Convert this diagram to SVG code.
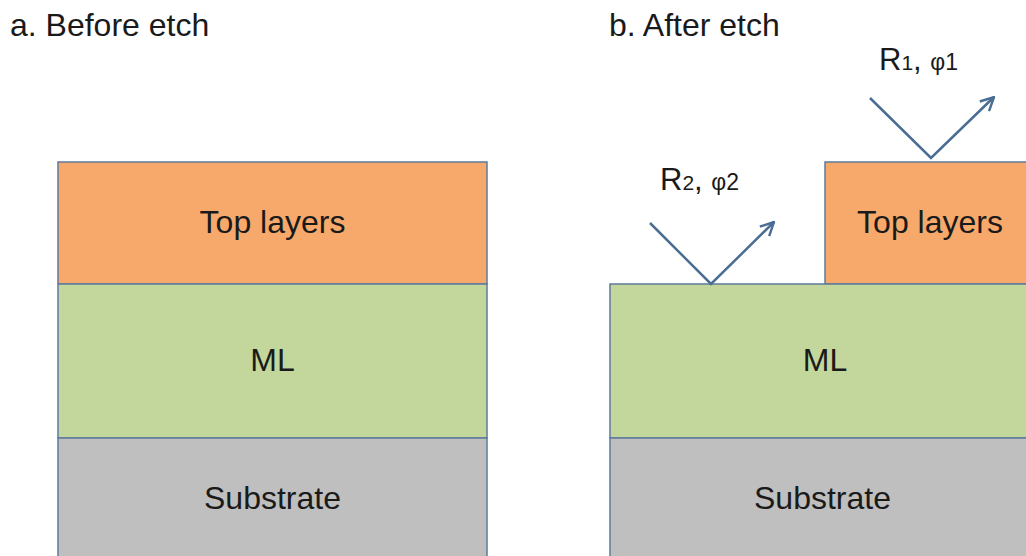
<svg xmlns="http://www.w3.org/2000/svg" width="1026" height="556" viewBox="0 0 1026 556">
  <style>
    .txt { font-family: "Liberation Sans", Arial, sans-serif; fill: #1a1a1a; }
    .title { font-size: 32px; }
    .lbl { font-size: 32px; text-anchor: middle; }
    .layer { stroke: #5d7b9c; stroke-width: 1.5; }
    .top { fill: #F7A96B; }
    .ml { fill: #C3D69B; }
    .sub { fill: #BFBFBF; }
    .ray { fill: none; stroke: #4A6D93; stroke-width: 2.5; stroke-linejoin: miter; }
  </style>
  <defs>
    <marker id="open" viewBox="0 0 12 12" refX="11" refY="6" markerWidth="16" markerHeight="16" markerUnits="userSpaceOnUse" orient="auto">
      <path d="M1,1 L11,6 L1,11" fill="none" stroke="#4A6D93" stroke-width="1.8"/>
    </marker>
  </defs>
  <rect width="1026" height="556" fill="#ffffff"/>

  <!-- panel titles -->
  <text class="txt title" x="10" y="36">a. Before etch</text>
  <text class="txt title" x="609" y="36">b. After etch</text>

  <!-- a. stack before etch -->
  <g id="a-top">
    <rect class="layer top" x="58" y="162" width="429" height="122"/>
    <text class="txt lbl" x="272.5" y="233">Top layers</text>
  </g>
  <g id="a-ml">
    <rect class="layer ml" x="58" y="284" width="429" height="154"/>
    <text class="txt lbl" x="272.5" y="371">ML</text>
  </g>
  <g id="a-substrate">
    <rect class="layer sub" x="58" y="438" width="429" height="130"/>
    <text class="txt lbl" x="272.5" y="509">Substrate</text>
  </g>

  <!-- b. stack after etch -->
  <g id="b-top">
    <rect class="layer top" x="825" y="162" width="210" height="122"/>
    <text class="txt lbl" x="930" y="233">Top layers</text>
  </g>
  <g id="b-ml">
    <rect class="layer ml" x="610" y="284" width="429" height="154"/>
    <text class="txt lbl" x="825" y="371">ML</text>
  </g>
  <g id="b-substrate">
    <rect class="layer sub" x="610" y="438" width="429" height="130"/>
    <text class="txt lbl" x="822.5" y="509">Substrate</text>
  </g>

  <!-- reflected rays -->
  <g id="connectors">
    <polyline class="ray" points="650,223 711,284 774,222" marker-end="url(#open)"/>
    <polyline class="ray" points="870,98 931,158 994,97" marker-end="url(#open)"/>
  </g>

  <!-- ray labels -->
  <g id="label-r2">
    <text class="txt" x="660" y="190" font-size="31">R<tspan font-size="21">2</tspan><tspan font-size="31">, </tspan><tspan font-size="23">φ2</tspan></text>
  </g>
  <g id="label-r1">
    <text class="txt" x="879" y="70" font-size="31">R<tspan font-size="21">1</tspan><tspan font-size="31">, </tspan><tspan font-size="23">φ1</tspan></text>
  </g>
</svg>
